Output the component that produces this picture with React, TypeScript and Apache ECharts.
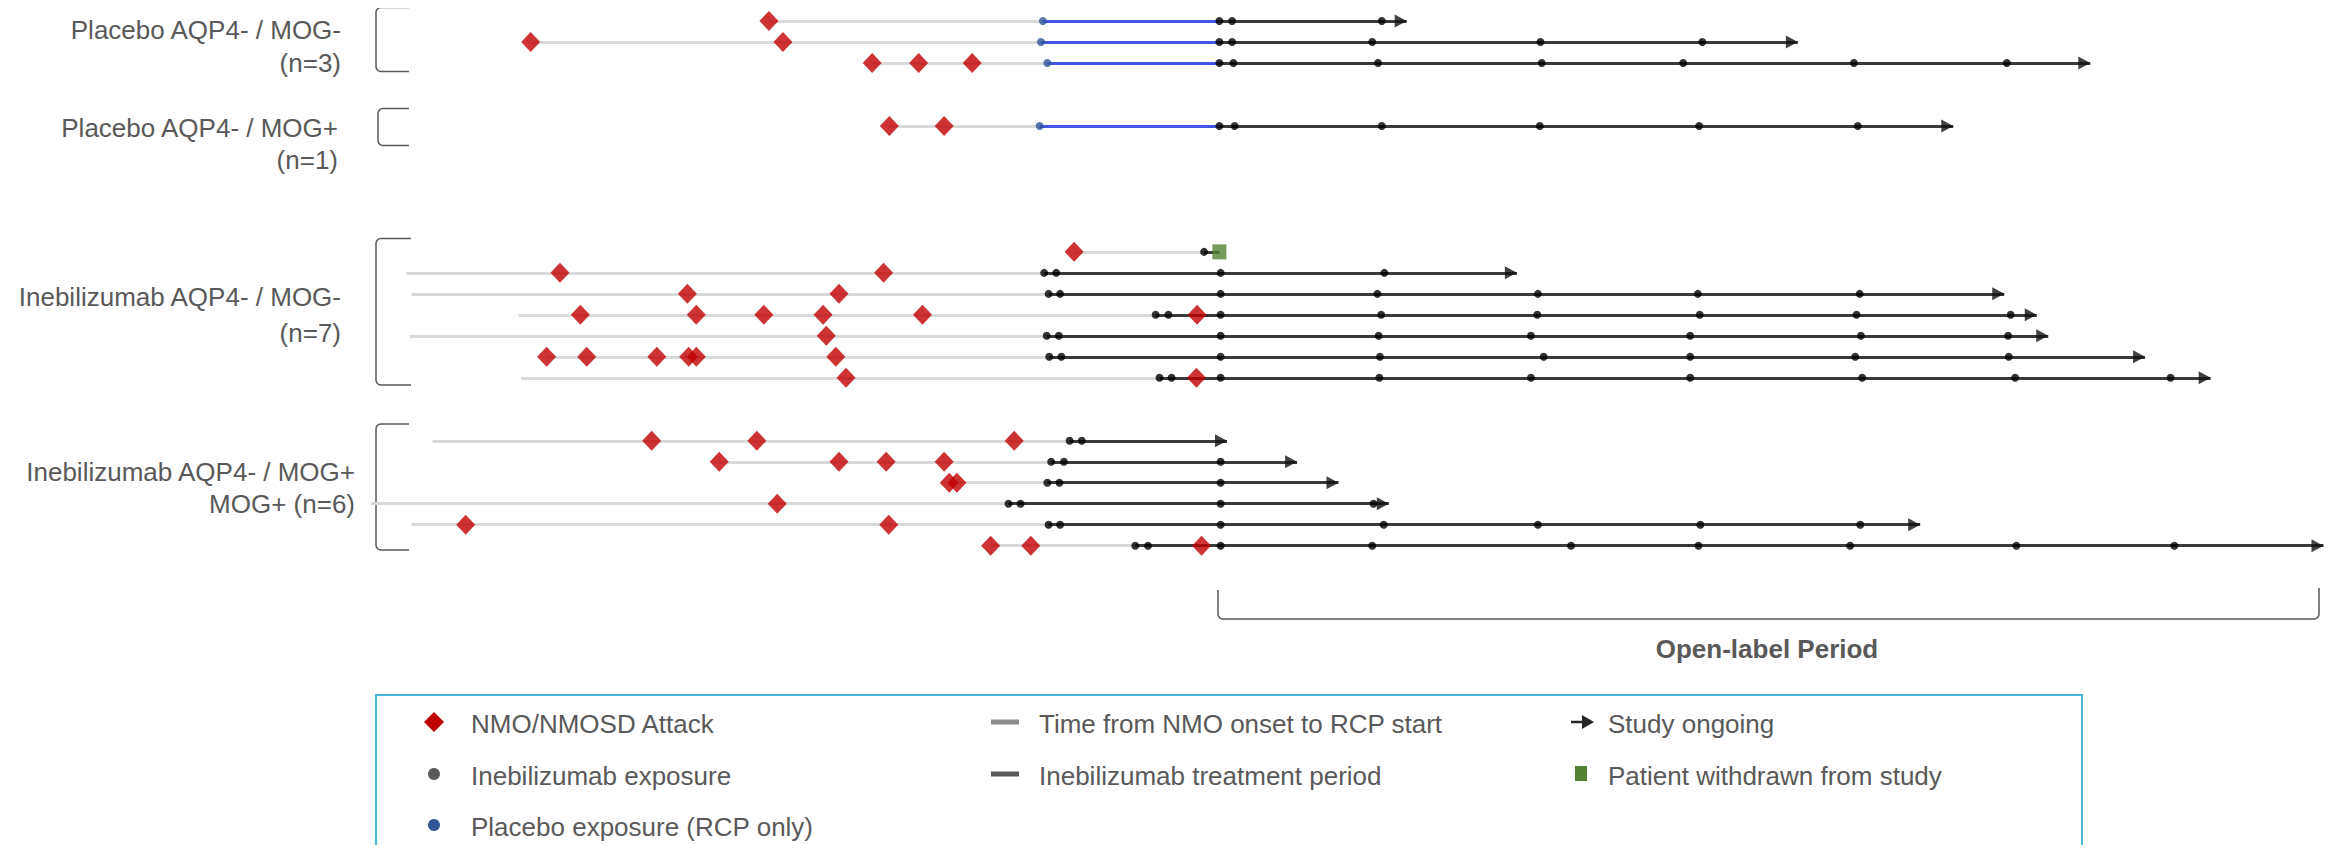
import React, { useEffect, useRef } from "react";
import * as echarts from "echarts";

// ---------- DATA (time in weeks from start of the randomized controlled period) ----------
const ROW_SLOT = [0, 1, 2, 5, 11, 12, 13, 14, 15, 16, 17, 20, 21, 22, 23, 24, 25];

// start of the "time from NMO onset" line for each patient
const ONSET_START = [-42.7, -80.1, -26.5, -23.8, 5.2, -99.6, -98.8, -82.0, -99.1, -77.6, -81.6, -95.5, -50.5, -14.4, -105.2, -98.8, -7.9];

// NMO/NMOSD attacks
const ATTACKS = [
  [-42.7],
  [-80.1, -40.5],
  [-26.5, -19.2, -10.8],
  [-23.8, -15.2],
  [5.2],
  [-75.5, -24.7],
  [-55.5, -31.7],
  [-72.3, -54.1, -43.5, -34.2, -18.6, 24.5],
  [-33.7],
  [-77.6, -71.3, -60.3, -55.3, -54.1, -32.2],
  [-30.6, 24.4],
  [-61.1, -44.6, -4.2],
  [-50.5, -31.7, -24.3, -15.2],
  [-14.4, -13.2],
  [-41.4],
  [-90.3, -23.9],
  [-7.9, -1.6, 25.2],
];

// placebo exposure (RCP only)
const PLACEBO_DOSE = [0.3, 0.0, 1.0, -0.2, null, null, null, null, null, null, null, null, null, null, null, null, null];

// inebilizumab exposures
const INEB_DOSES = [
  [28.0, 30.0, 53.5],
  [28.0, 30.0, 52.0, 78.4, 103.8],
  [28.0, 30.2, 52.9, 78.6, 100.8, 127.6, 151.6],
  [28.0, 30.4, 53.5, 78.3, 103.3, 128.2],
  [25.6],
  [0.5, 2.4, 28.2, 53.9],
  [1.2, 3.0, 28.2, 52.8, 78.0, 103.1, 128.5],
  [18.0, 20.0, 28.2, 53.4, 77.9, 103.4, 128.0, 152.2],
  [0.9, 2.8, 28.2, 53.0, 76.9, 101.9, 128.7, 151.8],
  [1.3, 3.2, 28.2, 53.2, 78.9, 101.9, 127.8, 151.9],
  [18.6, 20.5, 28.2, 53.1, 76.9, 101.9, 128.9, 152.9, 177.3],
  [4.5, 6.4],
  [1.6, 3.6, 28.2],
  [1.0, 2.9, 28.2],
  [-5.1, -3.2, 28.2, 52.2],
  [1.2, 3.0, 28.2, 53.8, 78.0, 103.5, 128.6],
  [14.8, 16.8, 28.2, 52.0, 83.2, 103.2, 127.0, 153.1, 177.9],
];

// study ongoing (arrow) end, or withdrawal time
const ONGOING_END = [57.4, 118.8, 164.7, 143.2, null, 74.7, 151.2, 156.3, 158.1, 173.3, 183.6, 29.2, 40.2, 46.7, 54.6, 138.0, 201.3];
const WITHDRAWN_AT = [null, null, null, null, 28.0, null, null, null, null, null, null, null, null, null, null, null, null];

const GROUP_LINE1 = ["Placebo AQP4- / MOG-", "Placebo AQP4- / MOG+", "Inebilizumab AQP4- / MOG-", "Inebilizumab AQP4- / MOG+"];
const GROUP_LINE2 = ["(n=3)", "(n=1)", "(n=7)", "MOG+ (n=6)"];

const LEGEND_LABELS = [
  "NMO/NMOSD Attack",
  "Inebilizumab exposure",
  "Placebo exposure (RCP only)",
  "Time from NMO onset to RCP start",
  "Inebilizumab treatment period",
  "Study ongoing",
  "Patient withdrawn from study",
];
const PERIOD_LABEL = "Open-label Period";

// ---------- STYLE ----------
const FONT = "'Liberation Sans', Arial, Helvetica, sans-serif";
const TXT = "#595959";
const RED = "#c00000";
const GRAY_LINE = "#d9d9d9";
const BLUE_LINE = "#4455e6";
const BLUE_DOT = "#2f5597";
const BLACK_LINE = "#3a3a3a";
const GREEN = "#548235";

function bracket(x: number, top: number, bottom: number, armEnd: number, r: number) {
  const pts: number[][] = [[armEnd, top]];
  const steps = 6;
  for (let i = 0; i <= steps; i++) {
    const a = Math.PI / 2 + (i / steps) * (Math.PI / 2);
    pts.push([x + r + r * Math.cos(a), top + r - r * Math.sin(a)]);
  }
  for (let i = 0; i <= steps; i++) {
    const a = Math.PI + (i / steps) * (Math.PI / 2);
    pts.push([x + r + r * Math.cos(a), bottom - r - r * Math.sin(a)]);
  }
  pts.push([armEnd, bottom]);
  return pts;
}

function periodBracket(xl: number, xr: number, yTopL: number, yTopR: number, yb: number, r: number) {
  const pts: number[][] = [[xl, yTopL]];
  const steps = 6;
  for (let i = 0; i <= steps; i++) {
    const a = Math.PI + (i / steps) * (Math.PI / 2);
    pts.push([xl + r + r * Math.cos(a), yb - r - r * Math.sin(a)]);
  }
  for (let i = 0; i <= steps; i++) {
    const a = (3 * Math.PI) / 2 + (i / steps) * (Math.PI / 2);
    pts.push([xr - r + r * Math.cos(a), yb - r - r * Math.sin(a)]);
  }
  pts.push([xr, yTopR]);
  return pts;
}

function txt(x: number, y: number, text: string, align: string, extra: any = {}) {
  return {
    type: "text",
    x,
    y,
    silent: true,
    style: {
      text,
      fill: TXT,
      fontSize: 26,
      fontFamily: FONT,
      align,
      textAlign: align,
      verticalAlign: "middle",
      textVerticalAlign: "middle",
      ...extra,
    },
  };
}

export default function App() {
  const ref = useRef<HTMLDivElement>(null);

  useEffect(() => {
    const chart = echarts.init(ref.current!, undefined, { renderer: "svg" });

    const grayData: any[] = [];
    const blueData: any[] = [];
    const blackData: any[] = [];
    const placeboPts: number[][] = [];
    const inebPts: number[][] = [];
    const attackPts: number[][] = [];
    const arrowPts: number[][] = [];
    const withdrawnPts: number[][] = [];

    ROW_SLOT.forEach((slot, i) => {
      const pl = PLACEBO_DOSE[i];
      const doses = INEB_DOSES[i];
      const firstExposure = pl !== null ? pl : doses[0];
      grayData.push({ coords: [[ONSET_START[i], slot], [firstExposure, slot]] });
      if (pl !== null) {
        placeboPts.push([pl, slot]);
        blueData.push({ coords: [[pl, slot], [doses[0], slot]] });
      }
      const end = ONGOING_END[i] !== null ? ONGOING_END[i] : WITHDRAWN_AT[i];
      blackData.push({ coords: [[doses[0], slot], [end, slot]] });
      doses.forEach((d) => inebPts.push([d, slot]));
      ATTACKS[i].forEach((a) => attackPts.push([a, slot]));
      if (ONGOING_END[i] !== null) arrowPts.push([ONGOING_END[i] as number, slot]);
      if (WITHDRAWN_AT[i] !== null) withdrawnPts.push([WITHDRAWN_AT[i] as number, slot]);
    });

    const groupLayout = [
      { right: 341, y1: 30, y2: 63, bx: 376, top: 7.5, bottom: 71.5, arm: 409 },
      { right: 338, y1: 127.5, y2: 160, bx: 378, top: 108.5, bottom: 145.5, arm: 409 },
      { right: 341, y1: 297, y2: 333, bx: 376, top: 238.5, bottom: 385, arm: 411 },
      { right: 355, y1: 471.5, y2: 503.5, bx: 376, top: 424, bottom: 550, arm: 409 },
    ];

    const graphics: any[] = [];
    groupLayout.forEach((g, i) => {
      graphics.push(txt(g.right, g.y1, GROUP_LINE1[i], "right"));
      graphics.push(txt(g.right, g.y2, GROUP_LINE2[i], "right"));
      graphics.push({
        type: "polyline",
        silent: true,
        shape: { points: bracket(g.bx, g.top, g.bottom, g.arm, 5) },
        style: { stroke: "#5a5a5a", lineWidth: 1.5, fill: "none" },
      });
    });

    // open-label period bracket and label
    graphics.push({
      type: "polyline",
      silent: true,
      shape: { points: periodBracket(1218, 2319, 590, 588, 619, 5) },
      style: { stroke: "#5a5a5a", lineWidth: 1.5, fill: "none" },
    });
    graphics.push(txt(1767, 648.5, PERIOD_LABEL, "center", { fontWeight: "bold" }));

    // legend box
    graphics.push({
      type: "rect",
      silent: true,
      shape: { x: 376, y: 695, width: 1706, height: 170 },
      style: { fill: "none", stroke: "#4bb5d8", lineWidth: 2 },
    });
    const ly = [722, 774, 825];
    // col 1
    graphics.push({
      type: "polygon",
      silent: true,
      shape: { points: [[434, ly[0] - 10], [444, ly[0]], [434, ly[0] + 10], [424, ly[0]]] },
      style: { fill: RED },
    });
    graphics.push({ type: "circle", silent: true, shape: { cx: 434, cy: ly[1], r: 6 }, style: { fill: "#595959" } });
    graphics.push({ type: "circle", silent: true, shape: { cx: 434, cy: ly[2], r: 6 }, style: { fill: BLUE_DOT } });
    graphics.push(txt(471, ly[0] + 2, LEGEND_LABELS[0], "left"));
    graphics.push(txt(471, ly[1] + 2, LEGEND_LABELS[1], "left"));
    graphics.push(txt(471, ly[2] + 2, LEGEND_LABELS[2], "left"));
    // col 2
    graphics.push({ type: "rect", silent: true, shape: { x: 991, y: ly[0] - 2.5, width: 28, height: 5 }, style: { fill: "#8c8c8c" } });
    graphics.push({ type: "rect", silent: true, shape: { x: 991, y: ly[1] - 2.5, width: 28, height: 5 }, style: { fill: "#595959" } });
    graphics.push(txt(1039, ly[0] + 2, LEGEND_LABELS[3], "left"));
    graphics.push(txt(1039, ly[1] + 2, LEGEND_LABELS[4], "left"));
    // col 3
    graphics.push({
      type: "line",
      silent: true,
      shape: { x1: 1571, y1: ly[0], x2: 1585, y2: ly[0] },
      style: { stroke: "#262626", lineWidth: 2.5 },
    });
    graphics.push({
      type: "polygon",
      silent: true,
      shape: { points: [[1582, ly[0] - 7], [1594, ly[0]], [1582, ly[0] + 7]] },
      style: { fill: "#262626" },
    });
    graphics.push({ type: "rect", silent: true, shape: { x: 1575, y: ly[1] - 8, width: 12, height: 15 }, style: { fill: GREEN } });
    graphics.push(txt(1608, ly[0] + 2, LEGEND_LABELS[5], "left"));
    graphics.push(txt(1608, ly[1] + 2, LEGEND_LABELS[6], "left"));

    const option: any = {
      animation: false,
      backgroundColor: "#ffffff",
      grid: { left: 2.5, right: 6.7, top: 0, bottom: 89.4, containLabel: false },
      xAxis: { type: "value", min: -163, max: 203, show: false, splitLine: { show: false } },
      yAxis: { type: "value", min: -1, max: 35, inverse: true, show: false, splitLine: { show: false } },
      tooltip: { show: false },
      series: [
        {
          type: "lines",
          name: "Time from NMO onset to RCP start",
          coordinateSystem: "cartesian2d",
          z: 1,
          silent: true,
          lineStyle: { color: GRAY_LINE, width: 3, opacity: 1 },
          data: grayData,
        },
        {
          type: "lines",
          name: "Placebo period",
          coordinateSystem: "cartesian2d",
          z: 2,
          silent: true,
          lineStyle: { color: BLUE_LINE, width: 3, opacity: 1 },
          data: blueData,
        },
        {
          type: "lines",
          name: "Inebilizumab treatment period",
          coordinateSystem: "cartesian2d",
          z: 2,
          silent: true,
          lineStyle: { color: BLACK_LINE, width: 3, opacity: 1 },
          data: blackData,
        },
        {
          type: "scatter",
          name: "Study ongoing",
          z: 3,
          silent: true,
          symbol: "triangle",
          symbolSize: [13, 12],
          symbolRotate: -90,
          symbolOffset: [-6, 0],
          itemStyle: { color: "#111111" },
          data: arrowPts,
        },
        {
          type: "scatter",
          name: "Placebo exposure (RCP only)",
          z: 4,
          silent: true,
          symbol: "circle",
          symbolSize: 8,
          itemStyle: { color: BLUE_DOT },
          data: placeboPts,
        },
        {
          type: "scatter",
          name: "Inebilizumab exposure",
          z: 4,
          silent: true,
          symbol: "circle",
          symbolSize: 8,
          itemStyle: { color: "#000000" },
          data: inebPts,
        },
        {
          type: "scatter",
          name: "NMO/NMOSD Attack",
          z: 5,
          silent: true,
          symbol: "diamond",
          symbolSize: [19, 20],
          itemStyle: { color: RED },
          data: attackPts,
        },
        {
          type: "scatter",
          name: "Patient withdrawn from study",
          z: 5,
          silent: true,
          symbol: "rect",
          symbolSize: [14, 15],
          itemStyle: { color: GREEN },
          data: withdrawnPts,
        },
      ],
      graphic: { elements: graphics },
    };

    chart.setOption(option);
    return () => chart.dispose();
  }, []);

  return (
    <div
      ref={ref}
      style={{ position: "relative", left: -8, top: -8, width: 2341, height: 845, background: "#fff" }}
    />
  );
}
